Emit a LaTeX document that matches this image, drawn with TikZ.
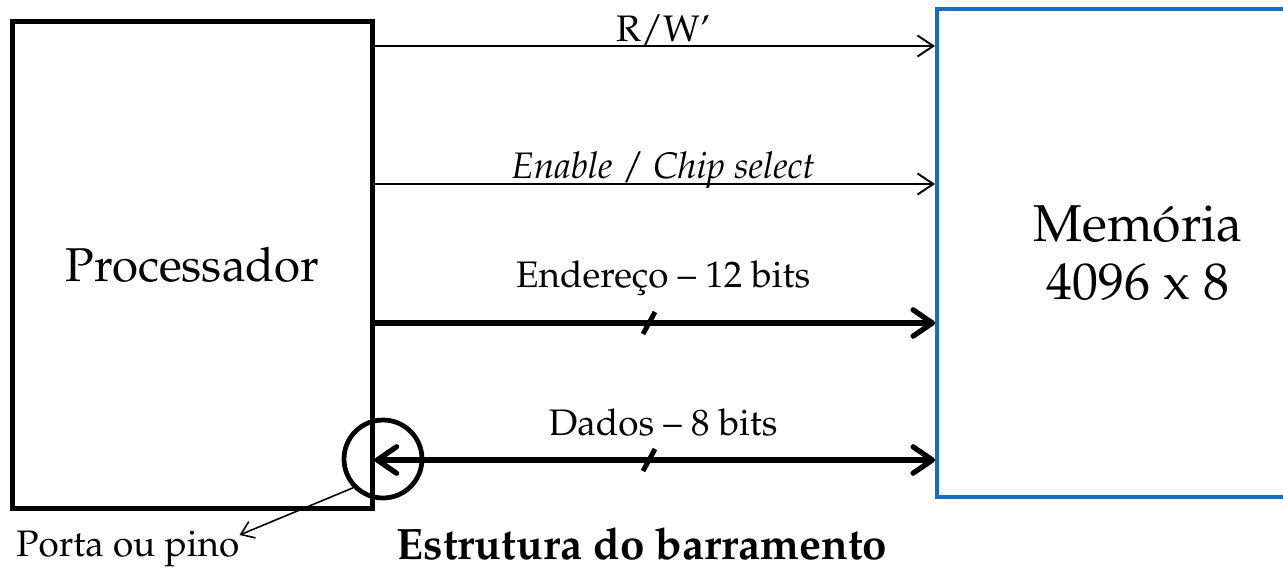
\documentclass[tikz,border=0pt]{standalone}
\usepackage[T1]{fontenc}
\usepackage{mathpazo}
\usepackage{xcolor}
\usetikzlibrary{arrows.meta}
\usetikzlibrary{positioning}

\definecolor{azulmem}{RGB}{20,110,200}

\tikzset{
  bloco/.style={rectangle, draw=black, line width=2.4pt, inner sep=0pt, align=center,
    font=\fontsize{27}{33}\selectfont},
  sinal/.style={line width=1.1pt, -{Straight Barb[length=9pt,width=12pt]}},
  barra/.style={line width=3pt, -{Straight Barb[length=11pt,width=15pt,round]}},
  barrad/.style={line width=3pt, {Straight Barb[length=11pt,width=15pt,round]}-{Straight Barb[length=11pt,width=15pt,round]}},
  rotulo/.style={font=\fontsize{21}{25}\selectfont, inner sep=0pt, anchor=base},
  corte/.style={line width=2.8pt},
}

\begin{document}
\begin{tikzpicture}[x=0.02cm,y=-0.02cm]
\useasboundingbox (0,0) rectangle (1283,568);
\clip (0,0) rectangle (1283,568);
\fill[white] (0,0) rectangle (1283,568);
% blocos
\node[bloco, minimum width=7.2cm, minimum height=9.74cm](proc) at (192.5,265){Processador};
\node[bloco, draw=azulmem, line width=2.3pt, minimum width=8.04cm, minimum height=9.76cm,
  font=\fontsize{29.5}{33}\selectfont](mem) at (1138,253){Mem\'oria\\4096 x 8};
% sinais de controle
\draw[sinal] (proc.east |- 0,46) -- node[rotulo, pos=0.515, yshift=2.7pt]{R/W'} (mem.west |- 0,46);
\draw[sinal] (proc.east |- 0,184) -- node[rotulo, pos=0.515, yshift=3.4pt]{\textit{Enable} / \textit{Chip select}} (mem.west |- 0,184);
% barramentos
\draw[barra] (proc.east |- 0,323) -- node[rotulo, pos=0.515, yshift=20pt]{Endere\c{c}o -- 12 bits} (mem.west |- 0,323);
\draw[barrad] (proc.east |- 0,460) -- node[rotulo, pos=0.515, yshift=14pt]{Dados -- 8 bits} (mem.west |- 0,460);
\draw[corte] (649,323) ++(-6,11) -- ++(12,-22);
\draw[corte] (649,460) ++(-6,11) -- ++(12,-22);
% porta
\node[circle, draw=black, line width=2.7pt, minimum size=1.56cm, inner sep=0pt](pino) at (383,459){};
\node[rotulo, anchor=base west](porta) at (16,556){Porta ou pino};
\draw[line width=0.9pt, -{Straight Barb[length=7pt,width=10pt]}] (pino.224) -- ([yshift=-2.8pt]porta.north east);
\node[rotulo, font=\bfseries\fontsize{25}{30}\selectfont](titulo) at (642,559){Estrutura do barramento};
\end{tikzpicture}
\end{document}
